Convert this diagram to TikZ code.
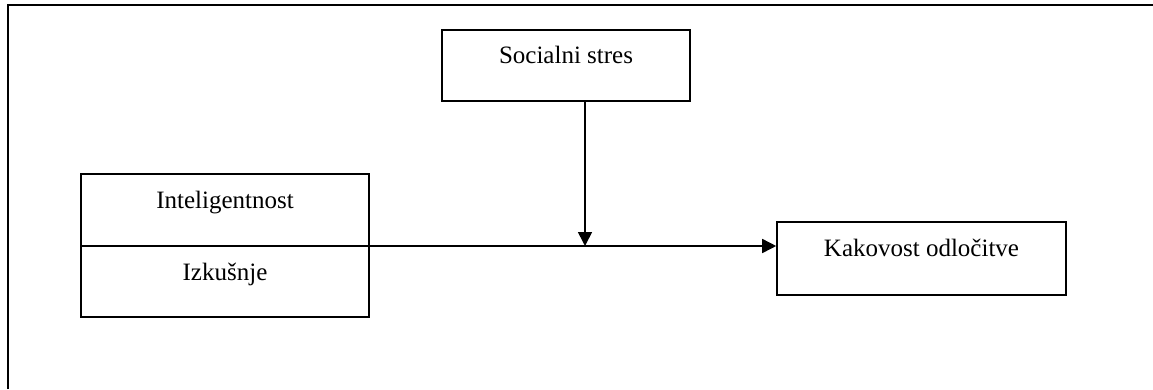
\documentclass[tikz,border=0pt]{standalone}
\usepackage{fontspec}
\setmainfont{Liberation Serif}
\usetikzlibrary{arrows.meta}
\begin{document}
\begin{tikzpicture}[x=1pt,y=-1pt,
  box/.style={draw=black,line width=1.6pt,rectangle,inner sep=0pt},
  lbl/.style={font=\fontsize{25}{30}\selectfont,anchor=base,inner sep=0pt},
  conn/.style={line width=1.6pt,-{Triangle[length=14pt,width=14pt]}}]
  \useasboundingbox (0,0) rectangle (1153,389);
  % open frame: top and left edges only
  \draw[line width=2.4pt] (8,389) -- (8,5) -- (1153,5);
  % boxes
  \node[box,minimum width=248pt,minimum height=71pt] (soc) at (566,65.5) {};
  \node[box,minimum width=288pt,minimum height=143pt] (left) at (225,245.5) {};
  \node[box,minimum width=289pt,minimum height=73pt] (kak) at (921.5,258.5) {};
  \coordinate (divL) at (81,246);
  \coordinate (divR) at (369,246);
  \draw[line width=1.6pt] (divL) -- (divR);
  % labels
  \node[lbl] (tsoc) at (566,63) {Socialni stres};
  \node[lbl] (tint) at (225,208) {Inteligentnost};
  \node[lbl] (tizk) at (225,280) {Izkušnje};
  \node[lbl] (tkak) at (921.5,256) {Kakovost odločitve};
  % connectors
  \coordinate (kakin) at (kak.west |- divR);
  \coordinate (mod) at (585,246);
  \coordinate (socout) at (soc.south -| mod);
  \draw[conn] (divR) -- (kakin);
  \draw[conn] (socout) -- (mod);
\end{tikzpicture}
\end{document}
